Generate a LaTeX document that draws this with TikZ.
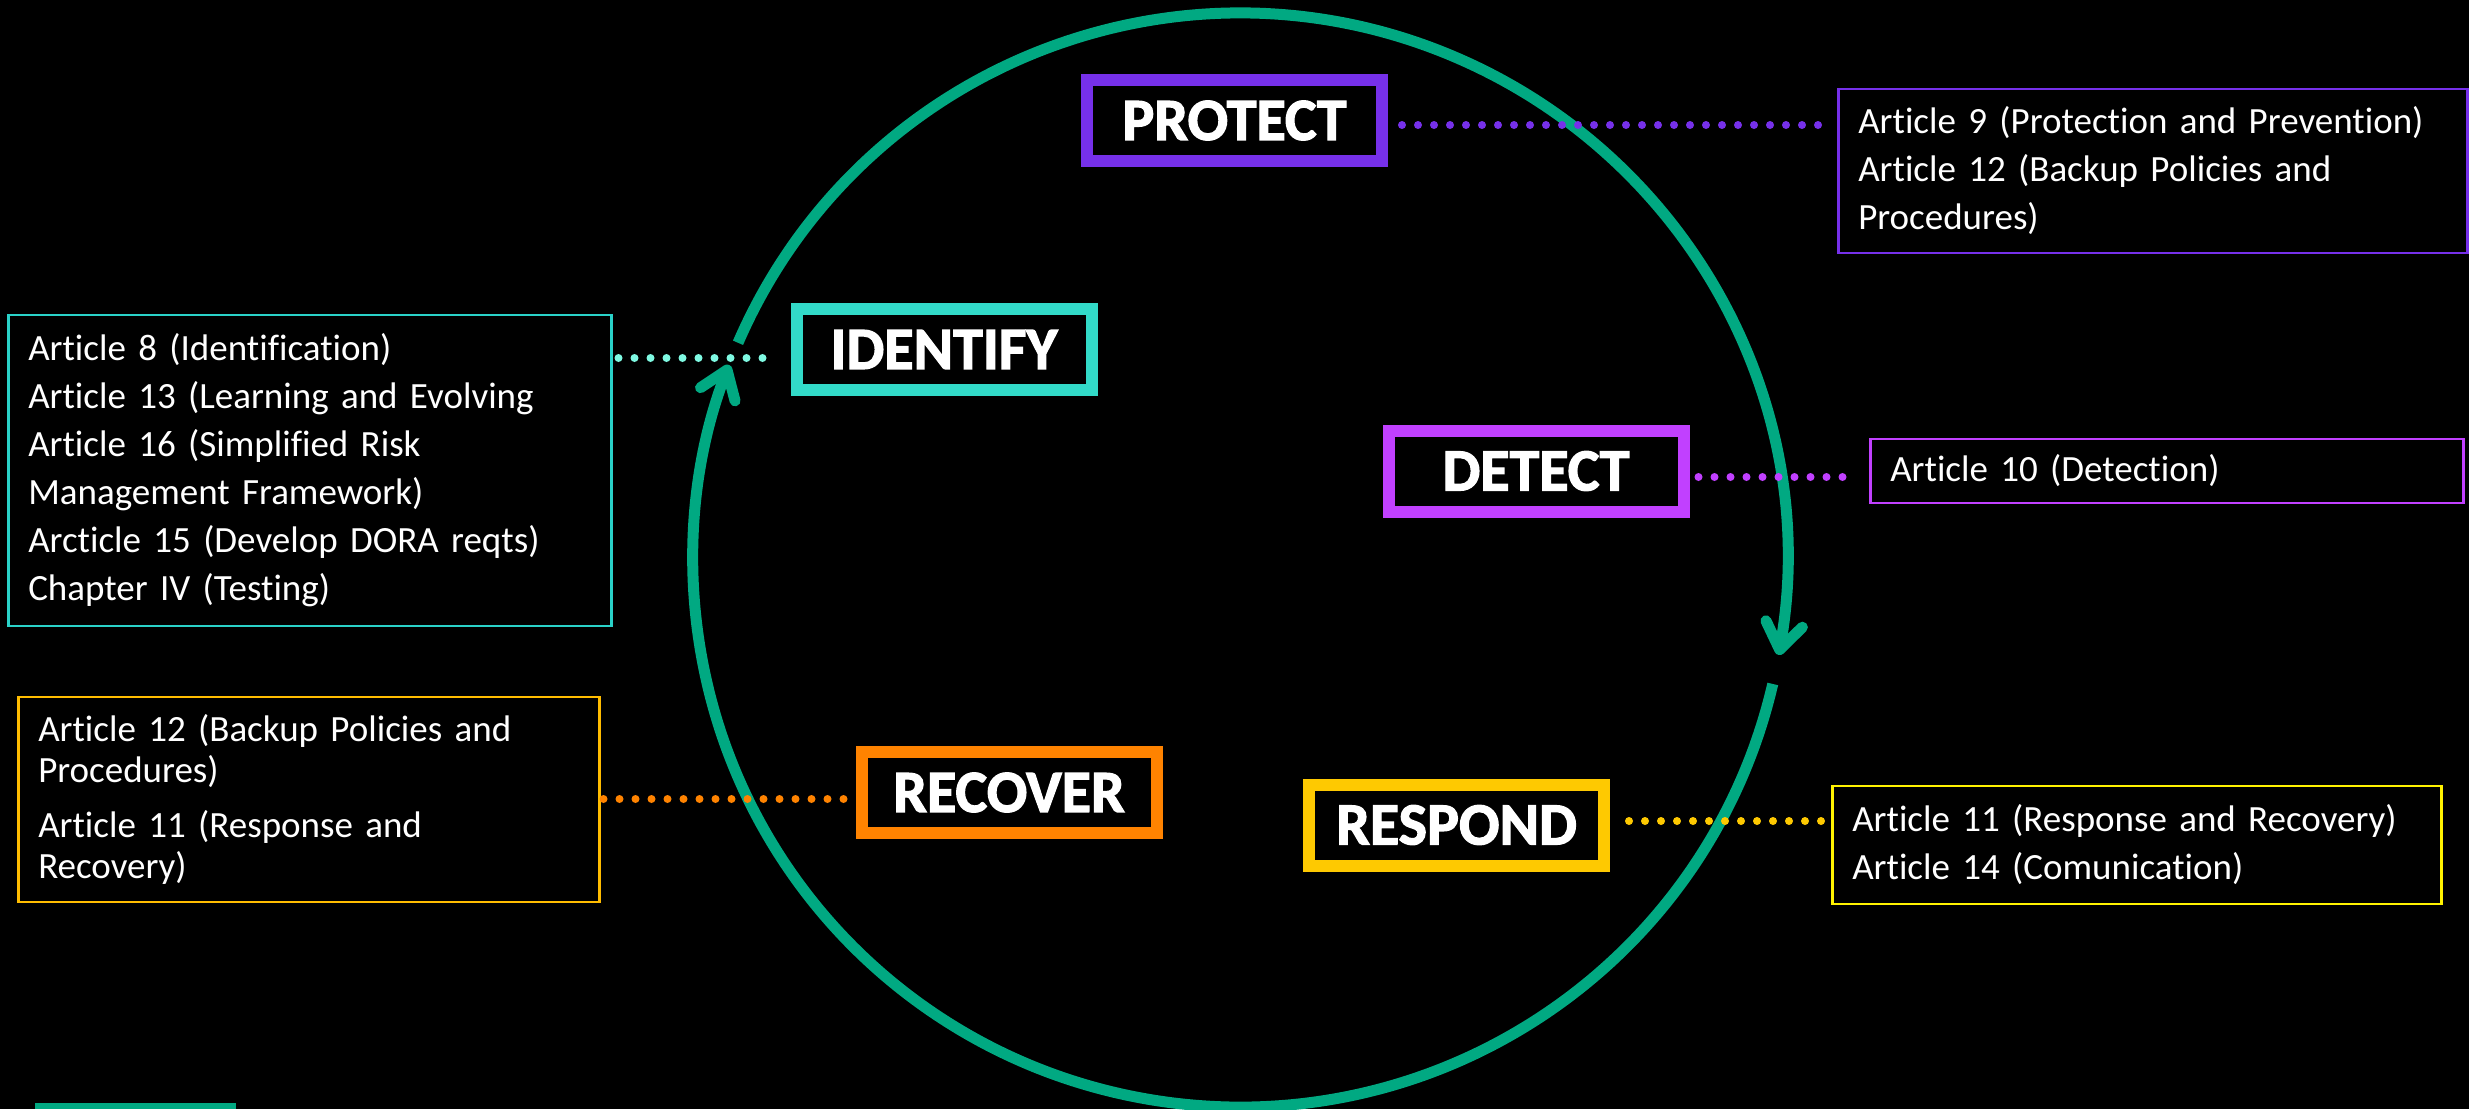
\documentclass[tikz,border=0pt]{standalone}
\usepackage{fontspec}
\setmainfont{Carlito}[Ligatures={NoCommon},WordSpace=0.9]
\newfontfamily\lblfont[FakeBold=2]{Carlito Bold}
\usetikzlibrary{arrows.meta}
\definecolor{cring}{HTML}{01A982}
\definecolor{cprotect}{HTML}{7630EA}
\definecolor{cident}{HTML}{32DAC8}
\definecolor{cidentdot}{HTML}{7FF9E2}
\definecolor{cidentart}{HTML}{2AD2C9}
\definecolor{cdetect}{HTML}{C140FF}
\definecolor{crespond}{HTML}{FEC901}
\definecolor{crespondart}{HTML}{FFF200}
\definecolor{crecover}{HTML}{FF8300}
\definecolor{crecoverart}{HTML}{FFBC00}
\begin{document}
\begin{tikzpicture}[x=1pt,y=-1pt,
  ring/.style={draw=cring, line width=11pt, -{Straight Barb[length=26pt,width=37pt,round]}},
  lbl/.style={draw=#1, line width=12pt, fill=black, minimum width=295pt, minimum height=81pt,
    inner sep=0pt, text=white, font=\lblfont\fontsize{60}{60}\selectfont},
  art/.style={draw=#1, line width=2.5pt, text=white, align=left, inner xsep=20pt, inner ysep=0pt,
    anchor=west, font=\fontsize{37}{48}\selectfont},
  dots/.style={draw=#1, line width=8pt, line cap=round, dash pattern=on 0pt off 16pt}]
\fill[black] (0,0) rectangle (2469,1109);
\useasboundingbox (0,0) rectangle (2469,1109);
% cycle
\draw[ring] (1240,560) ++(-156.6:547) arc[start angle=-156.6, end angle=10, radius=547];
\draw[ring] (1240,560) ++(13.1:547) arc[start angle=13.1, end angle=200.9, radius=547];
% label boxes
\node[lbl=cprotect] (P) at (1234.5,120.5) {PROTECT};
\node[lbl=cident] (I) at (944,349.5) {IDENTIFY};
\node[lbl=cdetect] (D) at (1536,471) {DETECT};
\node[lbl=crespond] (R) at (1456.5,825) {RESPOND};
\node[lbl=crecover] (C) at (1009,792.5) {RECOVER};
% article boxes
\node[art=cprotect, text width=589pt, minimum height=164pt] (PA) at (1837,171)
  {Article 9 (Protection and Prevention)\\Article 12 (Backup Policies and\\Procedures)};
\node[art=cidentart, text width=563pt, minimum height=311pt] (IA) at (7,470.5)
  {Article 8 (Identification)\\Article 13 (Learning and Evolving\\Article 16 (Simplified Risk\\Management Framework)\\Arcticle 15 (Develop DORA reqts)\\Chapter IV (Testing)};
\node[art=cdetect, text width=553pt, minimum height=64pt] (DA) at (1869,471)
  {Article 10 (Detection)};
\node[art=crespondart, text width=569pt, minimum height=118pt] (RA) at (1831,845)
  {Article 11 (Response and Recovery)\\Article 14 (Comunication)};
\node[art=crecoverart, text width=541pt, minimum height=205pt,
  font=\fontsize{37}{41}\selectfont] (CA) at (17,799.5)
  {Article 12 (Backup Policies and\\Procedures)\\[14pt]Article 11 (Response and\\Recovery)};
% dotted connectors
\coordinate (p1) at ([xshift=14pt,yshift=-4.5pt]P.east);
\coordinate (p2) at ([xshift=-15pt]PA.west);
\draw[dots=cprotect] (p1) -- (p1 -| p2);
\coordinate (i1) at ([xshift=6pt]IA.east);
\coordinate (i2) at ([xshift=-16pt,yshift=-8.5pt]I.west);
\draw[dots=cidentdot] (i1 |- i2) -- (i2);
\coordinate (d1) at ([xshift=9pt,yshift=-6pt]D.east);
\coordinate (d2) at ([xshift=-12pt]DA.west);
\draw[dots=cdetect] (d1) -- (d1 -| d2);
\coordinate (r1) at ([xshift=19pt,yshift=4pt]R.east);
\coordinate (r2) at ([xshift=-9pt]RA.west);
\draw[dots=crespond] (r1) -- (r1 -| r2);
\coordinate (c1) at ([xshift=3pt]CA.east);
\coordinate (c2) at ([xshift=-10pt,yshift=-6.5pt]C.west);
\draw[dots=crecover] (c1 |- c2) -- (c2);
% bottom accent bar
\fill[cring] (35,1103) rectangle (236,1109);
\end{tikzpicture}
\end{document}
